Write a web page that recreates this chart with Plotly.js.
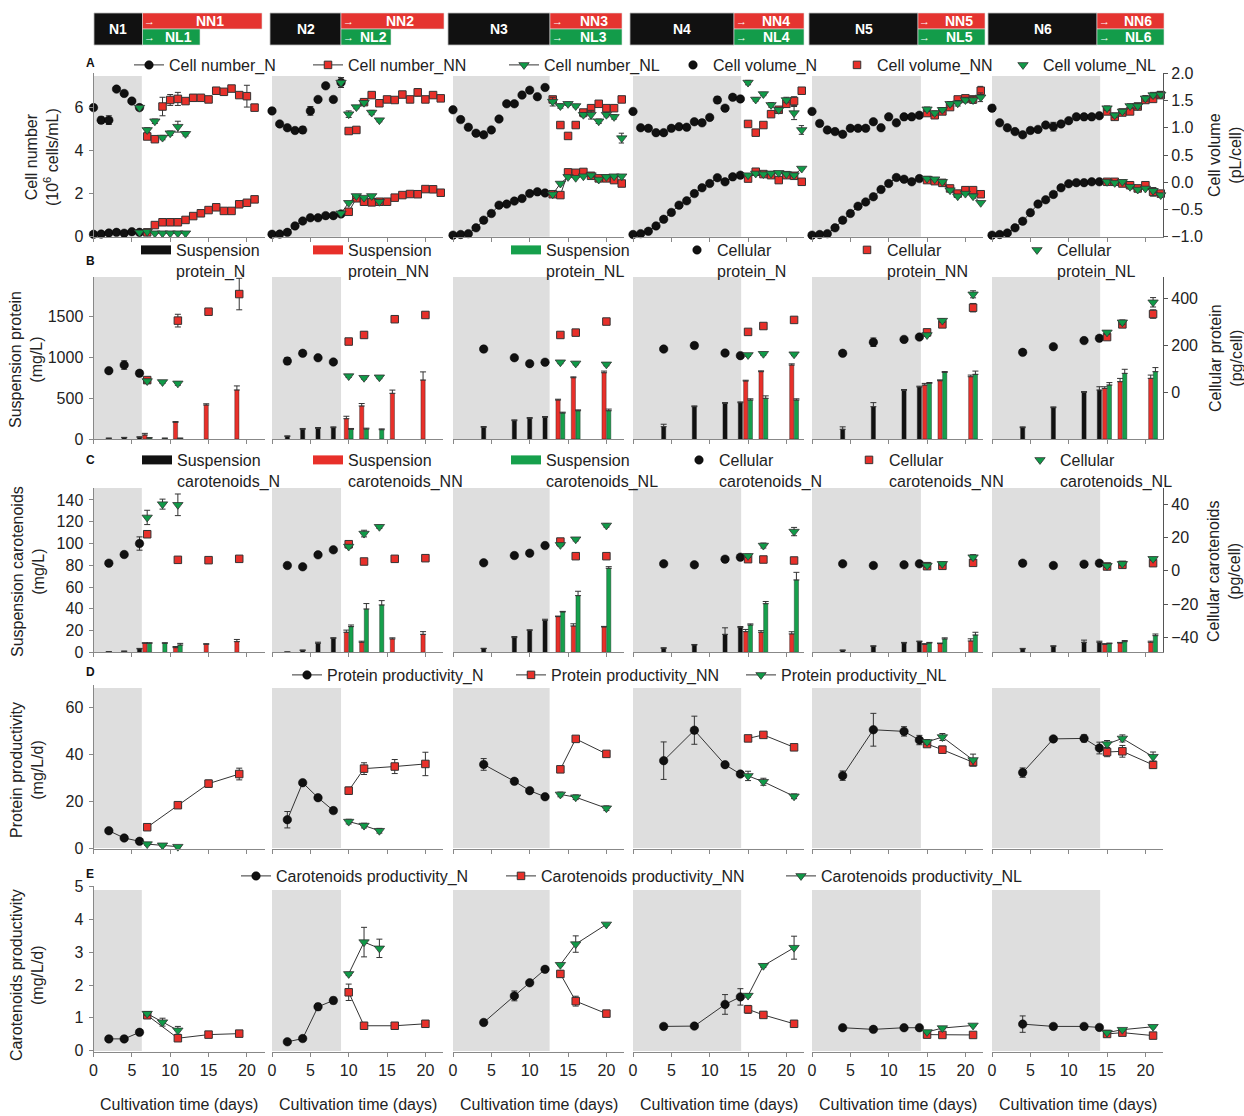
<!DOCTYPE html>
<html><head><meta charset="utf-8">
<script src="https://cdn.plot.ly/plotly-3.0.1.min.js"></script>
<style>body{margin:0;background:#fff}#chart{width:1244px;height:1116px}</style>
</head><body><div id="chart"></div>
<script>
// ---------------- DATA ----------------
// Row A: cell number (10^6 cells/mL, left) and cell volume (pL/cell, right)
const dayA1N = [0,1,2,3,4,5,6];
const cellNum1N = [0.09,0.10,0.15,0.18,0.14,0.21,0.18];
const cellVol1N = [1.37,1.14,1.14,1.71,1.63,1.49,1.37];
const dayA1NN = [7,8,9,10,11,12,13,14,15,16,17,18,19,20,21];
const cellNum1NN = [0.18,0.52,0.65,0.65,0.65,0.76,0.94,1.07,1.22,1.35,1.18,1.18,1.49,1.56,1.72];
const cellVol1NN = [0.84,0.79,1.39,1.51,1.53,1.49,1.55,1.55,1.52,1.68,1.66,1.72,1.60,1.58,1.37];
const dayA1NL = [6,7,8,9,10,11,12];
const cellNum1NL = [0.18,0.21,0.14,0.14,0.14,0.14,0.14];
const cellVol1NL = [1.37,0.96,1.12,0.82,0.90,1.02,0.89];

const dayA2N = [0,1,2,3,4,5,6,7,8,9];
const cellNum2N = [0.09,0.10,0.18,0.48,0.71,0.86,0.86,0.96,0.96,1.04];
const cellVol2N = [1.31,1.07,1.00,0.95,0.96,1.31,1.52,1.77,1.52,1.83];
const dayA2NN = [10,11,12,13,14,15,16,17,18,19,20,21,22];
const cellNum2NN = [1.14,1.77,1.61,1.58,1.61,1.61,1.80,1.92,1.97,1.96,2.20,2.19,2.03];
const cellVol2NN = [0.94,0.96,1.47,1.60,1.45,1.52,1.51,1.61,1.52,1.65,1.52,1.60,1.54];
const dayA2NL = [9,10,11,12,13,14];
const cellNum2NL = [1.07,1.56,1.88,1.80,1.88,1.61];
const cellVol2NL = [1.83,1.25,1.38,1.46,1.28,1.14];

const dayA3N = [0,1,2,3,4,5,6,7,8,9,10,11,12];
const cellNum3N = [0.05,0.08,0.12,0.39,0.75,1.06,1.45,1.50,1.64,1.76,1.99,2.07,2.02];
const cellVol3N = [1.33,1.15,1.01,0.90,0.87,0.96,1.16,1.44,1.44,1.60,1.69,1.57,1.74];
const dayA3NN = [13,14,15,16,17,18,19,20,21,22];
const cellNum3NN = [1.96,1.92,2.98,2.96,3.00,2.82,2.70,2.70,2.62,2.46];
const cellVol3NN = [1.52,1.05,0.85,1.05,1.28,1.36,1.44,1.36,1.36,1.52];
const dayA3NL = [13,14,15,16,17,18,19,20,21,22];
const cellNum3NL = [1.96,2.46,2.77,2.73,2.80,2.85,2.65,2.77,2.80,2.80];
const cellVol3NL = [1.48,1.40,1.44,1.40,1.24,1.24,1.12,1.24,1.20,0.81];

const dayA4N = [0,1,2,3,4,5,6,7,8,9,10,11,12,13,14];
const cellNum4N = [0.08,0.12,0.23,0.48,0.79,1.11,1.45,1.65,1.99,2.26,2.46,2.73,2.54,2.77,2.85];
const cellVol4N = [1.30,1.00,0.99,0.91,0.91,0.99,1.02,1.01,1.11,1.09,1.19,1.51,1.36,1.56,1.53];
const dayA4NN = [15,16,17,18,19,20,21,22];
const cellNum4NN = [2.69,3.01,2.90,2.85,2.62,2.85,2.82,2.54];
const cellVol4NN = [1.07,0.91,1.05,1.25,1.33,1.44,1.49,1.68];
const dayA4NL = [15,16,17,18,19,20,21,22];
const cellNum4NL = [2.85,2.93,2.90,2.93,2.96,2.90,2.85,3.16];
const cellVol4NL = [1.83,1.52,1.62,1.42,1.33,1.51,1.27,0.96];

const dayA5N = [0,1,2,3,4,5,6,7,8,9,10,11,12,13,14];
const cellNum5N = [0.05,0.08,0.12,0.39,0.75,1.06,1.40,1.60,1.84,2.18,2.46,2.74,2.66,2.54,2.69];
const cellVol5N = [1.30,1.08,0.96,0.93,0.88,0.99,0.99,0.99,1.11,1.00,1.20,1.09,1.20,1.20,1.23];
const dayA5NN = [15,16,17,18,19,20,21,22];
const cellNum5NN = [2.62,2.57,2.49,2.23,1.99,2.15,2.15,1.96];
const cellVol5NN = [1.27,1.23,1.30,1.38,1.52,1.54,1.52,1.68];
const dayA5NL = [15,16,17,18,19,20,21,22];
const cellNum5NL = [2.69,2.66,2.54,2.15,1.87,1.99,1.87,1.56];
const cellVol5NL = [1.34,1.27,1.33,1.44,1.45,1.51,1.51,1.56];

const dayA6N = [0,1,2,3,4,5,6,7,8,9,10,11,12,13,14];
const cellNum6N = [0.05,0.08,0.15,0.39,0.70,1.10,1.50,1.70,1.95,2.26,2.45,2.50,2.50,2.54,2.54];
const cellVol6N = [1.36,1.09,1.00,0.93,0.87,0.95,0.97,1.05,1.02,1.07,1.13,1.20,1.20,1.20,1.22];
const dayA6NN = [15,16,17,18,19,20,21,22];
const cellNum6NN = [2.54,2.54,2.46,2.38,2.23,2.38,2.07,1.99];
const cellVol6NN = [1.30,1.20,1.28,1.30,1.39,1.51,1.53,1.60];
const dayA6NL = [15,16,17,18,19,20,21,22];
const cellNum6NL = [2.54,2.49,2.54,2.31,2.18,2.23,2.12,1.92];
const cellVol6NL = [1.36,1.23,1.30,1.40,1.40,1.54,1.60,1.61];

// Row A error bars
const errVol1N = [0.03,0.06,0.08,0.03,0.03,0.03,0.04];
const errVol1NN = [0.03,0.03,0.17,0.10,0.12,0.04,0.06,0.04,0.03,0.06,0.03,0.03,0.04,0.20,0.06];
const errVol1NL = [0.04,0.04,0.04,0.04,0.04,0.10,0.04];
const errNum1NN = [0.03,0.03,0.03,0.03,0.03,0.03,0.03,0.03,0.03,0.03,0.05,0.10,0.13,0.08,0.07];
const errVol2N = [0.03,0.03,0.03,0.03,0.06,0.08,0.03,0.03,0.03,0.09];
const errVol2NN = [0.03,0.03,0.04,0.05,0.04,0.04,0.04,0.04,0.04,0.07,0.04,0.05,0.04];
const errVol2NL = [0.09,0.06,0.03,0.03,0.04,0.03];
const errNum2NN = [0.03,0.03,0.03,0.03,0.03,0.03,0.03,0.03,0.05,0.03,0.10,0.04,0.03];
const errVol3N = [0.04,0.03,0.03,0.03,0.03,0.03,0.04,0.03,0.03,0.03,0.03,0.04,0.03];
const errVol3NN = [0.05,0.04,0.04,0.04,0.04,0.05,0.04,0.04,0.04,0.04];
const errVol3NL = [0.08,0.04,0.03,0.03,0.04,0.08,0.04,0.04,0.04,0.09];
const errNum3NN = [0.05,0.05,0.05,0.05,0.05,0.05,0.05,0.05,0.08,0.08];
const errVol4N = [0.04,0.03,0.03,0.03,0.03,0.03,0.03,0.03,0.04,0.05,0.03,0.06,0.04,0.04,0.05];
const errVol4NN = [0.03,0.03,0.03,0.04,0.04,0.04,0.08,0.04];
const errVol4NL = [0.04,0.03,0.03,0.04,0.04,0.05,0.12,0.08];
const errNum4NN = [0.05,0.05,0.05,0.05,0.05,0.05,0.05,0.05];
const errVol5N = [0.04,0.05,0.05,0.03,0.03,0.03,0.03,0.03,0.04,0.03,0.03,0.03,0.03,0.03,0.03];
const errVol5NN = [0.04,0.04,0.04,0.04,0.05,0.05,0.06,0.08];
const errVol5NL = [0.04,0.04,0.04,0.04,0.05,0.05,0.06,0.08];
const errNum5NN = [0.05,0.05,0.05,0.05,0.10,0.15,0.10,0.10];
const errVol6N = [0.06,0.03,0.03,0.03,0.03,0.03,0.03,0.03,0.08,0.03,0.03,0.03,0.03,0.03,0.03];
const errVol6NN = [0.04,0.04,0.04,0.04,0.05,0.05,0.05,0.05];
const errVol6NL = [0.04,0.04,0.04,0.04,0.05,0.05,0.05,0.05];
const errNum6NN = [0.05,0.05,0.05,0.10,0.15,0.15,0.20,0.10];

// Rows B-E sampling days per phase
const dayN1 = [2,4,6], dayNN1 = [7,11,15,19], dayNL1 = [7,9,11];
const dayN2 = [2,4,6,8], dayNN2 = [10,12,16,20], dayNL2 = [10,12,14];
const dayN3 = [4,8,10,12], dayNN3 = [14,16,20], dayNL3 = [14,16,20];
const dayN4 = [4,8,12,14], dayNN4 = [15,17,21], dayNL4 = [15,17,21];
const dayN5 = [4,8,12,14], dayNN5 = [15,17,21], dayNL5 = [15,17,21];
const dayN6 = [4,8,12,14], dayNN6 = [15,17,21], dayNL6 = [15,17,21];

// Row B: suspension protein (mg/L, bars) and cellular protein (pg/cell, markers)
const susProt1N = [8,15,22], susProt1NN = [49,204,417,601], susProt1NL = [12,8,8];
const celProt1N = [92,116,81], celProt1NN = [52,305,343,418], celProt1NL = [48,44,38];
const susProt2N = [33,119,131,139], susProt2NN = [249,405,560,723], susProt2NL = [119,123,114];
const celProt2N = [133,166,147,129], celProt2NN = [216,244,311,329], celProt2NL = [69,62,64];
const susProt3N = [143,225,253,266], susProt3NN = [478,752,813], susProt3NL = [319,347,347];
const celProt3N = [184,147,122,128], celProt3NN = [244,254,301], celProt3NL = [128,123,119];
const susProt4N = [151,396,437,445], susProt4NN = [711,826,907], susProt4NL = [478,499,478];
const celProt4N = [184,199,167,156], celProt4NN = [257,282,308], celProt4NL = [159,164,162];
const susProt5N = [119,396,597,638], susProt5NN = [662,715,764], susProt5NL = [683,817,793];
const celProt5N = [166,213,225,235], celProt5NN = [255,289,360], celProt5NL = [244,305,417];
const susProt6N = [139,384,572,601], susProt6NN = [621,703,744], susProt6NL = [662,805,826];
const celProt6N = [170,194,220,230], celProt6NN = [235,289,333], celProt6NL = [255,298,383];
const eSusProt1N = [3,5,5], eSusProt1NN = [20,10,15,50], eSusProt1NL = [5,3,3];
const eCelProt1N = [10,18,12], eCelProt1NN = [5,27,10,67], eCelProt1NL = [8,6,8];
const eSusProt2N = [5,10,10,10], eSusProt2NN = [30,30,40,100], eSusProt2NL = [10,10,10];
const eCelProt2N = [15,10,6,6], eCelProt2NN = [10,12,8,8], eCelProt2NL = [6,6,6];
const eSusProt3N = [10,10,10,10], eSusProt3NN = [10,10,20], eSusProt3NL = [10,10,20];
const eCelProt3N = [12,8,6,6], eCelProt3NN = [8,8,8], eCelProt3NL = [6,6,6];
const eSusProt4N = [30,10,10,10], eSusProt4NN = [10,10,15], eSusProt4NL = [15,30,15];
const eCelProt4N = [8,12,8,8], eCelProt4NN = [8,10,6], eCelProt4NL = [6,6,6];
const eSusProt5N = [30,50,10,10], eSusProt5NN = [20,10,20], eSusProt5NL = [10,10,40];
const eCelProt5N = [8,18,8,8], eCelProt5NN = [8,8,18], eCelProt5NL = [6,8,15];
const eSusProt6N = [10,10,10,40], eSusProt6NN = [20,40,40], eSusProt6NL = [30,50,50];
const eCelProt6N = [10,6,6,8], eCelProt6NN = [8,12,18], eCelProt6NL = [8,10,20];

// Row C: suspension carotenoids (mg/L, bars) and cellular carotenoids (pg/cell, markers)
const susCar1N = [0.5,1,3.1], susCar1NN = [8.3,4.3,7.4,9.8], susCar1NL = [8.3,8.3,6.7];
const celCar1N = [4.6,9.8,16.4], celCar1NN = [22.0,6.6,6.4,7.2], celCar1NL = [32.1,40.1,39.7];
const susCar2N = [0.3,1.8,8.3,12.9], susCar2NN = [18.4,9.2,12.3,16.5], susCar2NL = [23.6,39.8,43.5];
const celCar2N = [3.2,2.4,9.6,12.6], celCar2NN = [16.0,5.6,7.2,7.6], celCar2NL = [14.6,22.4,26.5];
const susCar3N = [3.4,13.5,20.2,29.4], susCar3NN = [32.8,24.2,23.3], susCar3NL = [37.1,52.1,77.2];
const celCar3N = [4.8,9.2,10.6,15.2], celCar3NN = [17.6,8.8,8.8], celCar3NL = [15.6,19.0,27.3];
const susCar4N = [3.7,6.7,16.5,22.7], susCar4NN = [19.0,18.4,16.9], susCar4NL = [25.1,44.7,66.5];
const celCar4N = [4.2,3.6,7.0,8.2], celCar4NN = [7.0,6.8,6.2], celCar4NL = [9.0,15.2,23.6];
const susCar5N = [1.8,5.5,8.6,9.8], susCar5NN = [7.4,8.0,10.4], susCar5NL = [8.6,12.3,15.9];
const celCar5N = [4.2,3.2,3.6,4.2], celCar5NN = [2.8,3.0,4.8], celCar5NL = [3.2,4.2,8.2];
const susCar6N = [3.1,5.5,9.2,9.2], susCar6NN = [7.4,8.6,9.2], susCar6NL = [8.0,9.8,15.3];
const celCar6N = [4.6,3.2,4.0,4.6], celCar6NN = [2.6,3.6,4.6], celCar6NL = [3.0,4.2,7.2];
const eSusCar1N = [0,0,0.5], eSusCar1NN = [0.5,1,0.5,2], eSusCar1NL = [0.5,0.5,1.5];
const eCelCar1N = [1,1,4], eCelCar1NN = [2,1.5,1,1], eCelCar1NL = [4.3,3,6.5];
const eSusCar2N = [0,0.3,1,0.5], eSusCar2NN = [2,1,1,2.5], eSusCar2NL = [1.5,5,4];
const eCelCar2N = [1,1,1,1], eCelCar2NN = [1,1,1,1], eCelCar2NL = [1,2,1];
const eSusCar3N = [0.3,1,0.5,1], eSusCar3NN = [0.5,2,0.5], eSusCar3NL = [0.5,4,1.5];
const eCelCar3N = [1,1,1,1], eCelCar3NN = [1,1,1], eCelCar3NL = [1,1,1];
const eSusCar4N = [0.5,0.5,6,1], eSusCar4NN = [2,1.5,2], eSusCar4NL = [1,2,7];
const eCelCar4N = [1,1,1.5,1], eCelCar4NN = [1,1,1], eCelCar4NL = [1,1.5,2.5];
const eSusCar5N = [0.3,0.5,0.5,0.5], eSusCar5NN = [0.5,0.5,2], eSusCar5NL = [0.5,1,2.5];
const eCelCar5N = [1,1,1,1], eCelCar5NN = [1,1,1.5], eCelCar5NL = [1,1,1.5];
const eSusCar6N = [0.5,0.5,2,1], eSusCar6NN = [0.5,0.5,1], eSusCar6NL = [0.5,1,1.5];
const eCelCar6N = [1.5,1,1,1], eCelCar6NN = [1,1,1.5], eCelCar6NL = [1,1,1];

// Row D: protein productivity (mg/L/d)
const protProd1N = [7.5,4.4,3.0], protProd1NN = [9.0,18.4,27.6,31.7], protProd1NL = [1.8,1.3,0.7];
const protProd2N = [12.2,28.0,21.6,16.1], protProd2NN = [24.6,34.0,34.9,36.0], protProd2NL = [11.4,9.7,7.5];
const protProd3N = [35.8,28.6,24.6,22.0], protProd3NN = [33.7,46.7,40.3], protProd3NL = [23.0,21.8,17.1];
const protProd4N = [37.4,50.4,35.7,31.7], protProd4NN = [46.9,48.4,43.1], protProd4NL = [30.9,28.4,22.2];
const protProd5N = [31.0,50.6,49.9,46.2], protProd5NN = [44.5,42.1,36.7], protProd5NL = [45.4,47.5,37.7];
const protProd6N = [32.3,46.7,46.9,42.8], protProd6NN = [41.1,41.4,35.6], protProd6NL = [44.5,46.9,39.1];
const eProtProd1N = [1,0.8,0.8], eProtProd1NN = [1,1,1.5,2.5], eProtProd1NL = [0.5,0.5,0.5];
const eProtProd2N = [3.5,1,1,1], eProtProd2NN = [1.5,2.5,3,5], eProtProd2NL = [1,1,1];
const eProtProd3N = [2.5,1,1,1], eProtProd3NN = [1,1,1], eProtProd3NL = [1,1,1];
const eProtProd4N = [8,6,1,1], eProtProd4NN = [1,1,1], eProtProd4NL = [2,1.5,1];
const eProtProd5N = [2,7,2,2], eProtProd5NN = [1,1.5,1.5], eProtProd5NL = [1,1.5,2.5];
const eProtProd6N = [2,1,1.5,2.5], eProtProd6NN = [2,2.5,1.5], eProtProd6NL = [1.5,1.5,2];

// Row E: carotenoids productivity (mg/L/d)
const carProd1N = [0.36,0.36,0.56], carProd1NN = [1.08,0.38,0.49,0.52], carProd1NL = [1.13,0.87,0.62];
const carProd2N = [0.27,0.37,1.34,1.53], carProd2NN = [1.78,0.76,0.76,0.82], carProd2NL = [2.34,3.31,3.12];
const carProd3N = [0.86,1.67,2.07,2.48], carProd3NN = [2.34,1.51,1.13], carProd3NL = [2.62,3.25,3.85];
const carProd4N = [0.74,0.75,1.41,1.64], carProd4NN = [1.26,1.09,0.82], carProd4NL = [1.68,2.59,3.14];
const carProd5N = [0.70,0.65,0.70,0.70], carProd5NN = [0.49,0.48,0.48], carProd5NL = [0.57,0.69,0.77];
const carProd6N = [0.81,0.74,0.74,0.71], carProd6NN = [0.51,0.55,0.46], carProd6NL = [0.55,0.64,0.73];
const eCarProd1N = [0.05,0.05,0.06], eCarProd1NN = [0.08,0.06,0.05,0.06], eCarProd1NL = [0.06,0.12,0.12];
const eCarProd2N = [0.05,0.05,0.1,0.1], eCarProd2NN = [0.25,0.05,0.05,0.1], eCarProd2NL = [0.05,0.45,0.28];
const eCarProd3N = [0.05,0.15,0.05,0.05], eCarProd3NN = [0.1,0.15,0.08], eCarProd3NL = [0.03,0.25,0.03];
const eCarProd4N = [0.03,0.05,0.3,0.25], eCarProd4NN = [0.12,0.08,0.05], eCarProd4NL = [0.05,0.05,0.35];
const eCarProd5N = [0.03,0.03,0.03,0.03], eCarProd5NN = [0.03,0.03,0.03], eCarProd5NL = [0.03,0.03,0.03];
const eCarProd6N = [0.25,0.03,0.05,0.03], eCarProd6NN = [0.03,0.05,0.03], eCarProd6NL = [0.03,0.03,0.03];

// Phase switch day (end of grey N phase) per culture
const switchDay = [6.3, 9.0, 12.6, 14.1, 14.2, 14.1];
const cultureNames = ['1','2','3','4','5','6'];

// ---------------- TABLES BUILT FROM THE ARRAYS ----------------
const rowA = [
 {dN:dayA1N,nN:cellNum1N,vN:cellVol1N,dNN:dayA1NN,nNN:cellNum1NN,vNN:cellVol1NN,dNL:dayA1NL,nNL:cellNum1NL,vNL:cellVol1NL,evN:errVol1N,evNN:errVol1NN,evNL:errVol1NL,enNN:errNum1NN},
 {dN:dayA2N,nN:cellNum2N,vN:cellVol2N,dNN:dayA2NN,nNN:cellNum2NN,vNN:cellVol2NN,dNL:dayA2NL,nNL:cellNum2NL,vNL:cellVol2NL,evN:errVol2N,evNN:errVol2NN,evNL:errVol2NL,enNN:errNum2NN},
 {dN:dayA3N,nN:cellNum3N,vN:cellVol3N,dNN:dayA3NN,nNN:cellNum3NN,vNN:cellVol3NN,dNL:dayA3NL,nNL:cellNum3NL,vNL:cellVol3NL,evN:errVol3N,evNN:errVol3NN,evNL:errVol3NL,enNN:errNum3NN},
 {dN:dayA4N,nN:cellNum4N,vN:cellVol4N,dNN:dayA4NN,nNN:cellNum4NN,vNN:cellVol4NN,dNL:dayA4NL,nNL:cellNum4NL,vNL:cellVol4NL,evN:errVol4N,evNN:errVol4NN,evNL:errVol4NL,enNN:errNum4NN},
 {dN:dayA5N,nN:cellNum5N,vN:cellVol5N,dNN:dayA5NN,nNN:cellNum5NN,vNN:cellVol5NN,dNL:dayA5NL,nNL:cellNum5NL,vNL:cellVol5NL,evN:errVol5N,evNN:errVol5NN,evNL:errVol5NL,enNN:errNum5NN},
 {dN:dayA6N,nN:cellNum6N,vN:cellVol6N,dNN:dayA6NN,nNN:cellNum6NN,vNN:cellVol6NN,dNL:dayA6NL,nNL:cellNum6NL,vNL:cellVol6NL,evN:errVol6N,evNN:errVol6NN,evNL:errVol6NL,enNN:errNum6NN}
];
const days = [
 {N:dayN1,NN:dayNN1,NL:dayNL1},{N:dayN2,NN:dayNN2,NL:dayNL2},{N:dayN3,NN:dayNN3,NL:dayNL3},
 {N:dayN4,NN:dayNN4,NL:dayNL4},{N:dayN5,NN:dayNN5,NL:dayNL5},{N:dayN6,NN:dayNN6,NL:dayNL6}
];
const rowB = [
 {bN:susProt1N,bNN:susProt1NN,bNL:susProt1NL,mN:celProt1N,mNN:celProt1NN,mNL:celProt1NL,ebN:eSusProt1N,ebNN:eSusProt1NN,ebNL:eSusProt1NL,emN:eCelProt1N,emNN:eCelProt1NN,emNL:eCelProt1NL},
 {bN:susProt2N,bNN:susProt2NN,bNL:susProt2NL,mN:celProt2N,mNN:celProt2NN,mNL:celProt2NL,ebN:eSusProt2N,ebNN:eSusProt2NN,ebNL:eSusProt2NL,emN:eCelProt2N,emNN:eCelProt2NN,emNL:eCelProt2NL},
 {bN:susProt3N,bNN:susProt3NN,bNL:susProt3NL,mN:celProt3N,mNN:celProt3NN,mNL:celProt3NL,ebN:eSusProt3N,ebNN:eSusProt3NN,ebNL:eSusProt3NL,emN:eCelProt3N,emNN:eCelProt3NN,emNL:eCelProt3NL},
 {bN:susProt4N,bNN:susProt4NN,bNL:susProt4NL,mN:celProt4N,mNN:celProt4NN,mNL:celProt4NL,ebN:eSusProt4N,ebNN:eSusProt4NN,ebNL:eSusProt4NL,emN:eCelProt4N,emNN:eCelProt4NN,emNL:eCelProt4NL},
 {bN:susProt5N,bNN:susProt5NN,bNL:susProt5NL,mN:celProt5N,mNN:celProt5NN,mNL:celProt5NL,ebN:eSusProt5N,ebNN:eSusProt5NN,ebNL:eSusProt5NL,emN:eCelProt5N,emNN:eCelProt5NN,emNL:eCelProt5NL},
 {bN:susProt6N,bNN:susProt6NN,bNL:susProt6NL,mN:celProt6N,mNN:celProt6NN,mNL:celProt6NL,ebN:eSusProt6N,ebNN:eSusProt6NN,ebNL:eSusProt6NL,emN:eCelProt6N,emNN:eCelProt6NN,emNL:eCelProt6NL}
];
const rowC = [
 {bN:susCar1N,bNN:susCar1NN,bNL:susCar1NL,mN:celCar1N,mNN:celCar1NN,mNL:celCar1NL,ebN:eSusCar1N,ebNN:eSusCar1NN,ebNL:eSusCar1NL,emN:eCelCar1N,emNN:eCelCar1NN,emNL:eCelCar1NL},
 {bN:susCar2N,bNN:susCar2NN,bNL:susCar2NL,mN:celCar2N,mNN:celCar2NN,mNL:celCar2NL,ebN:eSusCar2N,ebNN:eSusCar2NN,ebNL:eSusCar2NL,emN:eCelCar2N,emNN:eCelCar2NN,emNL:eCelCar2NL},
 {bN:susCar3N,bNN:susCar3NN,bNL:susCar3NL,mN:celCar3N,mNN:celCar3NN,mNL:celCar3NL,ebN:eSusCar3N,ebNN:eSusCar3NN,ebNL:eSusCar3NL,emN:eCelCar3N,emNN:eCelCar3NN,emNL:eCelCar3NL},
 {bN:susCar4N,bNN:susCar4NN,bNL:susCar4NL,mN:celCar4N,mNN:celCar4NN,mNL:celCar4NL,ebN:eSusCar4N,ebNN:eSusCar4NN,ebNL:eSusCar4NL,emN:eCelCar4N,emNN:eCelCar4NN,emNL:eCelCar4NL},
 {bN:susCar5N,bNN:susCar5NN,bNL:susCar5NL,mN:celCar5N,mNN:celCar5NN,mNL:celCar5NL,ebN:eSusCar5N,ebNN:eSusCar5NN,ebNL:eSusCar5NL,emN:eCelCar5N,emNN:eCelCar5NN,emNL:eCelCar5NL},
 {bN:susCar6N,bNN:susCar6NN,bNL:susCar6NL,mN:celCar6N,mNN:celCar6NN,mNL:celCar6NL,ebN:eSusCar6N,ebNN:eSusCar6NN,ebNL:eSusCar6NL,emN:eCelCar6N,emNN:eCelCar6NN,emNL:eCelCar6NL}
];
const rowD = [
 {N:protProd1N,NN:protProd1NN,NL:protProd1NL,eN:eProtProd1N,eNN:eProtProd1NN,eNL:eProtProd1NL},
 {N:protProd2N,NN:protProd2NN,NL:protProd2NL,eN:eProtProd2N,eNN:eProtProd2NN,eNL:eProtProd2NL},
 {N:protProd3N,NN:protProd3NN,NL:protProd3NL,eN:eProtProd3N,eNN:eProtProd3NN,eNL:eProtProd3NL},
 {N:protProd4N,NN:protProd4NN,NL:protProd4NL,eN:eProtProd4N,eNN:eProtProd4NN,eNL:eProtProd4NL},
 {N:protProd5N,NN:protProd5NN,NL:protProd5NL,eN:eProtProd5N,eNN:eProtProd5NN,eNL:eProtProd5NL},
 {N:protProd6N,NN:protProd6NN,NL:protProd6NL,eN:eProtProd6N,eNN:eProtProd6NN,eNL:eProtProd6NL}
];
const rowE = [
 {N:carProd1N,NN:carProd1NN,NL:carProd1NL,eN:eCarProd1N,eNN:eCarProd1NN,eNL:eCarProd1NL},
 {N:carProd2N,NN:carProd2NN,NL:carProd2NL,eN:eCarProd2N,eNN:eCarProd2NN,eNL:eCarProd2NL},
 {N:carProd3N,NN:carProd3NN,NL:carProd3NL,eN:eCarProd3N,eNN:eCarProd3NN,eNL:eCarProd3NL},
 {N:carProd4N,NN:carProd4NN,NL:carProd4NL,eN:eCarProd4N,eNN:eCarProd4NN,eNL:eCarProd4NL},
 {N:carProd5N,NN:carProd5NN,NL:carProd5NL,eN:eCarProd5N,eNN:eCarProd5NN,eNL:eCarProd5NL},
 {N:carProd6N,NN:carProd6NN,NL:carProd6NL,eN:eCarProd6N,eNN:eCarProd6NN,eNL:eCarProd6NL}
];

// ---------------- LAYOUT GEOMETRY ----------------
const W = 1244, H = 1116;
const F = 'Liberation Sans, Arial, sans-serif';
const fx = px => px / W;
const fy = py => 1 - py / H;
const colX0 = [93.5, 272, 453, 633, 812, 992];
const pxPerDay = 7.67, xMax = 22.3;
const rowBox = [[73.3,236.7],[277,439],[488,652.3],[685,849],[886,1052]];
const leftRange = [[-0.023,7.605],[0,1987],[0,151],[-0.3,69.7],[-0.04,5.02]];
const rightRange = [[-1,2],[-198.7,490.6],[-49,49.8]];
const leftTicks = [[0,2,4,6],[0,500,1000,1500],[0,20,40,60,80,100,120,140],[0,20,40,60],[0,1,2,3,4,5]];
const rightTicks = [[-1,-0.5,0,0.5,1,1.5,2],[0,200,400],[-40,-20,0,20,40]];
const grayY = [[0,0.983],[0,1],[0,1],[0.006,0.982],[0.006,0.976]];

const cN = '#111111', cNN = '#e8302a', cNL = '#109a48';
const MK = {
  N:{symbol:'circle', size:8.5, color:cN, line:{color:'#000', width:0.5}},
  NN:{symbol:'square', size:7.5, color:cNN, line:{color:'#333', width:1}},
  NL:{symbol:'triangle-down', size:9, color:cNL, line:{color:'#333', width:0.8}}
};
const BARC = {N:cN, NN:'#e8302a', NL:'#16a04c'};
const BAROFF = {N:-0.275, NN:-0.58, NL:0.03};

const sfx = k => (k === 1 ? '' : String(k));
const LID = i => (i === 1 ? 'legend' : 'legend' + i);

const layout = {
  width:W, height:H, margin:{l:0,r:0,t:0,b:0}, paper_bgcolor:'#ffffff', plot_bgcolor:'rgba(0,0,0,0)',
  showlegend:true, barmode:'overlay', font:{family:F, size:16, color:'#222'},
  shapes:[], annotations:[]
};
const traces = [];

// axes
for (let r = 0; r < 5; r++) {
  for (let c = 0; c < 6; c++) {
    const k = r*6 + c + 1;
    layout['xaxis'+sfx(k)] = {
      domain:[fx(colX0[c]), fx(colX0[c] + xMax*pxPerDay)], anchor:'y'+sfx(k), range:[0,xMax],
      showline:true, linecolor:'#888', linewidth:1, ticks:'outside', ticklen:4, tickcolor:'#888',
      tickvals:[0,5,10,15,20], showticklabels:r===4, showgrid:false, zeroline:false,
      tickfont:{family:F, size:16, color:'#222'}, fixedrange:true
    };
    layout['yaxis'+sfx(k)] = {
      domain:[fy(rowBox[r][1]), fy(rowBox[r][0])], anchor:'x'+sfx(k), range:leftRange[r],
      showgrid:false, zeroline:false, showline:c===0, linecolor:'#888', linewidth:1,
      ticks:c===0?'outside':'', ticklen:4, tickcolor:'#888', showticklabels:c===0,
      tickvals:leftTicks[r], tickfont:{family:F, size:16, color:'#222'}, fixedrange:true, ticklabelstandoff:2
    };
    if (r < 3) {
      const rk = 31 + r*6 + c;
      layout['yaxis'+rk] = {
        overlaying:'y'+sfx(k), side:'right', anchor:'x'+sfx(k), range:rightRange[r],
        showgrid:false, zeroline:false, visible:c===5, showline:true, linecolor:'#555', linewidth:1,
        ticks:'outside', ticklen:4, tickcolor:'#555', tickvals:rightTicks[r],
        tickformat: r===0 ? '.1f' : '', tickfont:{family:F, size:16, color:'#222'}, fixedrange:true
      };
    }
    layout.shapes.push({type:'rect', xref:'x'+sfx(k), yref:'y'+sfx(k)+' domain', x0:0, x1:switchDay[c],
      y0:grayY[r][0], y1:grayY[r][1], fillcolor:'#dedede', line:{width:0}, layer:'below'});
  }
}

function errObj(arr) {
  return {type:'data', array:arr, visible:true, color:'#333', thickness:1, width:3};
}
function pts(k, yk, x, y, err, kind, mode, leg, name) {
  const t = {type:'scatter', mode:mode, x:x, y:y, xaxis:'x'+sfx(k), yaxis:'y'+yk,
    marker:Object.assign({}, MK[kind]), line:{color:'#333', width:1}, cliponaxis:false,
    showlegend:false, hoverinfo:'skip'};
  if (err) t.error_y = errObj(err);
  if (leg) { t.showlegend = true; t.legend = leg; t.name = name; }
  return t;
}
function bars(k, x, y, err, kind) {
  return {type:'bar', x:x, y:y, xaxis:'x'+sfx(k), yaxis:'y'+sfx(k), width:0.55, offset:BAROFF[kind],
    marker:{color:BARC[kind], line:{color:'#222', width:0.4}}, showlegend:false, hoverinfo:'skip',
    error_y:{type:'data', symmetric:false, array:err, arrayminus:err.map(() => 0), color:'#333', thickness:1, width:3}};
}
function dummyBar(kind, leg, name) {
  return {type:'scatter', mode:'lines', x:[null], y:[null], xaxis:'x', yaxis:'y',
    line:{color:BARC[kind], width:9}, showlegend:true, legend:leg, name:name, hoverinfo:'skip'};
}

// Row A
for (let c = 0; c < 6; c++) {
  const k = c + 1, rk = 31 + c, P = rowA[c], L = c === 0;
  traces.push(pts(k, sfx(k), P.dN, P.nN, null, 'N', 'lines+markers', L?LID(1):null, 'Cell number_N'));
  traces.push(pts(k, sfx(k), P.dNN, P.nNN, P.enNN, 'NN', 'lines+markers', L?LID(2):null, 'Cell number_NN'));
  traces.push(pts(k, sfx(k), P.dNL, P.nNL, null, 'NL', 'lines+markers', L?LID(3):null, 'Cell number_NL'));
  traces.push(pts(k, rk, P.dN, P.vN, P.evN, 'N', 'markers', L?LID(4):null, 'Cell volume_N'));
  traces.push(pts(k, rk, P.dNN, P.vNN, P.evNN, 'NN', 'markers', L?LID(5):null, 'Cell volume_NN'));
  traces.push(pts(k, rk, P.dNL, P.vNL, P.evNL, 'NL', 'markers', L?LID(6):null, 'Cell volume_NL'));
}
// Rows B and C
[[rowB, 1, 7, 'protein'], [rowC, 2, 13, 'carotenoids']].forEach(([rows, r, l0, word]) => {
  for (let c = 0; c < 6; c++) {
    const k = r*6 + c + 1, rk = 31 + r*6 + c, P = rows[c], D = days[c], L = c === 0;
    traces.push(bars(k, D.N, P.bN, P.ebN, 'N'));
    traces.push(bars(k, D.NN, P.bNN, P.ebNN, 'NN'));
    traces.push(bars(k, D.NL, P.bNL, P.ebNL, 'NL'));
    traces.push(pts(k, rk, D.N, P.mN, P.emN, 'N', 'markers', L?LID(l0+3):null, 'Cellular<br>'+word+'_N'));
    traces.push(pts(k, rk, D.NN, P.mNN, P.emNN, 'NN', 'markers', L?LID(l0+4):null, 'Cellular<br>'+word+'_NN'));
    traces.push(pts(k, rk, D.NL, P.mNL, P.emNL, 'NL', 'markers', L?LID(l0+5):null, 'Cellular<br>'+word+'_NL'));
  }
  traces.push(dummyBar('N', LID(l0), 'Suspension<br>'+word+'_N'));
  traces.push(dummyBar('NN', LID(l0+1), 'Suspension<br>'+word+'_NN'));
  traces.push(dummyBar('NL', LID(l0+2), 'Suspension<br>'+word+'_NL'));
});
// Rows D and E
[[rowD, 3, 19, 'Protein productivity'], [rowE, 4, 22, 'Carotenoids productivity']].forEach(([rows, r, l0, word]) => {
  for (let c = 0; c < 6; c++) {
    const k = r*6 + c + 1, P = rows[c], D = days[c], L = c === 0;
    traces.push(pts(k, sfx(k), D.N, P.N, P.eN, 'N', 'lines+markers', L?LID(l0):null, word+'_N'));
    traces.push(pts(k, sfx(k), D.NN, P.NN, P.eNN, 'NN', 'lines+markers', L?LID(l0+1):null, word+'_NN'));
    traces.push(pts(k, sfx(k), D.NL, P.NL, P.eNL, 'NL', 'lines+markers', L?LID(l0+2):null, word+'_NL'));
  }
});

// Legends (one entry each)
const legPos = [
  [170,65,1],[349,65,1],[545,65,1],[714,65,1],[878,65,1],[1044,65,1],
  [177,250,2],[349,250,2],[547,250,2],[718,250,2],[888,250,2],[1058,250,2],
  [178,460,2],[349,460,2],[547,460,2],[720,460,2],[890,460,2],[1061,460,2],
  [328,675,1],[552,675,1],[782,675,1],
  [277,876,1],[542,876,1],[822,876,1]
];
legPos.forEach(([tx, cy, lines], i) => {
  layout[LID(i+1)] = {
    x:fx(tx - 41), y: lines === 1 ? fy(cy) : fy(cy - 17), xanchor:'left', yanchor: lines === 1 ? 'middle' : 'top',
    bgcolor:'rgba(0,0,0,0)', borderwidth:0, font:{family:F, size:16, color:'#222'}, valign:'top',
    itemclick:false, itemdoubleclick:false
  };
});

// Header boxes N / NN / NL
const hdr = [[94,142.5,262,200],[270,341,444,391],[448,550,622,622],[630,734,804,804],[809,918,985,985],[988,1097,1164,1164]];
const ann = (x, y, text, font, extra) => Object.assign({xref:'paper', yref:'paper', x:fx(x), y:fy(y), text:text,
  showarrow:false, xanchor:'center', yanchor:'middle', font:font}, extra || {});
hdr.forEach(([x0, x1, xr, xg], i) => {
  const n = cultureNames[i];
  layout.shapes.push({type:'rect', xref:'paper', yref:'paper', x0:fx(x0), x1:fx(x1), y0:fy(45), y1:fy(13), fillcolor:'#111', line:{color:'#bbb', width:0.8}});
  layout.shapes.push({type:'rect', xref:'paper', yref:'paper', x0:fx(x1), x1:fx(xr), y0:fy(29), y1:fy(13), fillcolor:'#e53430', line:{color:'#ddd', width:0.6}});
  layout.shapes.push({type:'rect', xref:'paper', yref:'paper', x0:fx(x1), x1:fx(xg), y0:fy(45), y1:fy(29), fillcolor:'#139c4a', line:{color:'#ddd', width:0.6}});
  const wf = {family:F, size:14, color:'#fff'};
  const af = {family:F, size:11, color:'#fff'};
  layout.annotations.push(ann((x0+x1)/2, 29, '<b>N'+n+'</b>', wf));
  layout.annotations.push(ann(x1+7, 21, '<b>→</b>', af));
  layout.annotations.push(ann(x1+7, 37, '<b>→</b>', af));
  layout.annotations.push(ann((x1+15+xr)/2, 21, '<b>NN'+n+'</b>', wf));
  layout.annotations.push(ann((x1+15+xg)/2, 37, '<b>NL'+n+'</b>', wf));
});

// Panel letters
[['A',63],['B',261],['C',460],['D',672],['E',874]].forEach(([t, y]) => {
  layout.annotations.push(ann(90, y, '<b>'+t+'</b>', {family:F, size:12, color:'#111'}));
});

// Axis titles
const yTitles = [
  ['Cell number<br>(10<sup>6</sup> cells/mL)', 42, 157],
  ['Suspension protein<br>(mg/L)', 26, 360],
  ['Suspension carotenoids<br>(mg/L)', 28, 572],
  ['Protein productivity<br>(mg/L/d)', 27, 770],
  ['Carotenoids productivity<br>(mg/L/d)', 27, 975],
  ['Cell volume<br>(pL/cell)', 1225, 155],
  ['Cellular protein<br>(pg/cell)', 1226, 358],
  ['Cellular carotenoids<br>(pg/cell)', 1224, 572]
];
yTitles.forEach(([t, x, y]) => {
  layout.annotations.push(ann(x, y, t, {family:F, size:16, color:'#222'}, {textangle:-90}));
});
for (let c = 0; c < 6; c++) {
  layout.annotations.push(ann(colX0[c] + xMax*pxPerDay/2, 1104, 'Cultivation time (days)', {family:F, size:16, color:'#222'}));
}

Plotly.newPlot('chart', traces, layout, {staticPlot:true, displayModeBar:false});
</script></body></html>
